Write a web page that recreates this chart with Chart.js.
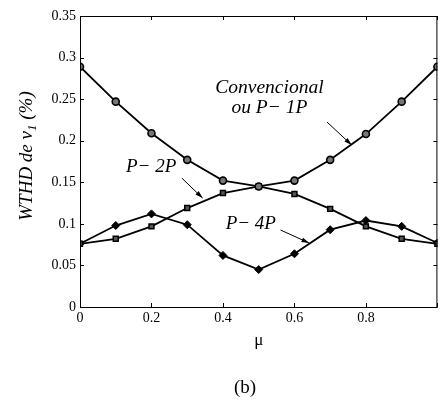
<!DOCTYPE html>
<html>
<head>
<meta charset="utf-8">
<script src="https://cdn.jsdelivr.net/npm/chart.js@4"></script>
<style>
  body { margin: 0; background: #fff; }
  #wrap { width: 443px; height: 400px; }
</style>
</head>
<body>
<div id="wrap"><canvas id="wthd"></canvas></div>
<script>
// values
const mu = [0, 0.1, 0.2, 0.3, 0.4, 0.5, 0.6, 0.7, 0.8, 0.9, 1];
const conv = [0.289, 0.247, 0.209, 0.177, 0.152, 0.145, 0.152, 0.177, 0.208, 0.247, 0.289];
const p2p = [0.076, 0.082, 0.097, 0.119, 0.137, 0.145, 0.136, 0.118, 0.097, 0.082, 0.076];
const p4p = [0.076, 0.098, 0.112, 0.099, 0.062, 0.045, 0.064, 0.093, 0.104, 0.097, 0.077];

const xTicks = [0, 0.2, 0.4, 0.6, 0.8, 1];
const yTicks = [0, 0.05, 0.1, 0.15, 0.2, 0.25, 0.3, 0.35];

const serif = "'Liberation Serif', 'DejaVu Serif', serif";

function pts(ys) {
  return mu.map((m, i) => ({ x: m, y: ys[i] }));
}

function arrow(ctx, x1, y1, x2, y2) {
  ctx.beginPath();
  ctx.moveTo(x1, y1);
  ctx.lineTo(x2, y2);
  ctx.stroke();
  const a = Math.atan2(y2 - y1, x2 - x1);
  ctx.beginPath();
  ctx.moveTo(x2, y2);
  ctx.lineTo(x2 - 8 * Math.cos(a - 0.3), y2 - 8 * Math.sin(a - 0.3));
  ctx.lineTo(x2 - 8 * Math.cos(a + 0.3), y2 - 8 * Math.sin(a + 0.3));
  ctx.closePath();
  ctx.fill();
}

// box, inward ticks, labels and arrows
const frame = {
  id: 'frame',
  afterDraw(chart) {
    const { ctx, chartArea: a, scales: { x, y } } = chart;
    ctx.save();
    ctx.strokeStyle = '#000';
    ctx.fillStyle = '#000';
    ctx.lineWidth = 1;
    ctx.strokeRect(a.left + 0.5, a.top + 0.5, a.right - a.left - 1, a.bottom - a.top);

    ctx.beginPath();
    xTicks.forEach(v => {
      const px = Math.round(x.getPixelForValue(v)) + 0.5;
      ctx.moveTo(px, a.bottom); ctx.lineTo(px, a.bottom - 4);
      ctx.moveTo(px, a.top); ctx.lineTo(px, a.top + 4);
    });
    yTicks.forEach(v => {
      const py = Math.round(y.getPixelForValue(v)) + 0.5;
      ctx.moveTo(a.left, py); ctx.lineTo(a.left + 4, py);
      ctx.moveTo(a.right, py); ctx.lineTo(a.right - 4, py);
    });
    ctx.stroke();

    // annotations
    const X = v => x.getPixelForValue(v);
    const Y = v => y.getPixelForValue(v);
    ctx.font = 'italic 19.5px ' + serif;
    ctx.textAlign = 'center';
    ctx.textBaseline = 'middle';
    ctx.fillText('Convencional', X(0.53), Y(0.264));
    ctx.fillText('ou P\u2212 1P', X(0.53), Y(0.239));
    ctx.font = 'italic 19px ' + serif;
    ctx.fillText('P\u2212 2P', X(0.199), Y(0.168));
    ctx.fillText('P\u2212 4P', X(0.478), Y(0.0998));

    ctx.lineWidth = 1;
    arrow(ctx, X(0.691), Y(0.2225), X(0.760), Y(0.1949));
    arrow(ctx, X(0.285), Y(0.155), X(0.343), Y(0.131));
    arrow(ctx, X(0.561), Y(0.0926), X(0.641), Y(0.077));

    // axis titles
    ctx.font = '17px ' + serif;
    ctx.fillText('\u03bc', (a.left + a.right) / 2, 341);
    ctx.font = '19px ' + serif;
    ctx.fillText('(b)', 245, 388);

    ctx.save();
    ctx.translate(27, 156);
    ctx.rotate(-Math.PI / 2);
    ctx.textAlign = 'left';
    const big = 'italic 19px ' + serif;
    const small = 'italic 13px ' + serif;
    const parts = ['WTHD de v', '1', ' (%)'];
    ctx.font = big;
    const w0 = ctx.measureText(parts[0]).width;
    const w2 = ctx.measureText(parts[2]).width;
    ctx.font = small;
    const w1 = ctx.measureText(parts[1]).width;
    let sx = -(w0 + w1 + w2) / 2;
    ctx.font = big;
    ctx.fillText(parts[0], sx, 0);
    sx += w0;
    ctx.font = small;
    ctx.fillText(parts[1], sx, 6);
    sx += w1;
    ctx.font = big;
    ctx.fillText(parts[2], sx, 0);
    ctx.restore();

    ctx.restore();
  }
};

new Chart(document.getElementById('wthd'), {
  type: 'line',
  data: {
    datasets: [
      {
        label: 'Convencional ou P-1P',
        data: pts(conv),
        borderColor: '#000',
        borderWidth: 1.8,
        pointStyle: 'circle',
        pointRadius: 3.5,
        pointBackgroundColor: '#777',
        pointBorderColor: '#000',
        pointBorderWidth: 1.6
      },
      {
        label: 'P-2P',
        data: pts(p2p),
        borderColor: '#000',
        borderWidth: 1.8,
        pointStyle: 'rect',
        pointRadius: 3.5,
        pointBackgroundColor: '#555',
        pointBorderColor: '#000',
        pointBorderWidth: 1.5
      },
      {
        label: 'P-4P',
        data: pts(p4p),
        borderColor: '#000',
        borderWidth: 1.8,
        pointStyle: 'rectRot',
        pointRadius: 4,
        pointBackgroundColor: '#000',
        pointBorderColor: '#000',
        pointBorderWidth: 1
      }
    ]
  },
  options: {
    responsive: true,
    maintainAspectRatio: false,
    animation: false,
    layout: { padding: { top: 16, right: 1, left: 0, bottom: 0 } },
    plugins: {
      legend: { display: false },
      tooltip: { enabled: false }
    },
    elements: { line: { tension: 0 } },
    scales: {
      x: {
        type: 'linear',
        min: 0,
        max: 1,
        afterBuildTicks: s => { s.ticks = xTicks.map(v => ({ value: v })); },
        afterFit: s => { s.height = 93; },
        grid: { display: false, drawTicks: false },
        border: { display: false },
        ticks: {
          padding: 3,
          color: '#000',
          font: { family: serif, size: 14 },
          callback: v => (v === 1 ? '' : String(v))
        }
      },
      y: {
        min: 0,
        max: 0.35,
        afterBuildTicks: s => { s.ticks = yTicks.map(v => ({ value: v })); },
        afterFit: s => { s.width = 80; },
        grid: { display: false, drawTicks: false },
        border: { display: false },
        ticks: {
          padding: 4,
          color: '#000',
          font: { family: serif, size: 14 },
          callback: v => String(v)
        }
      }
    }
  },
  plugins: [frame]
});
</script>
</body>
</html>
